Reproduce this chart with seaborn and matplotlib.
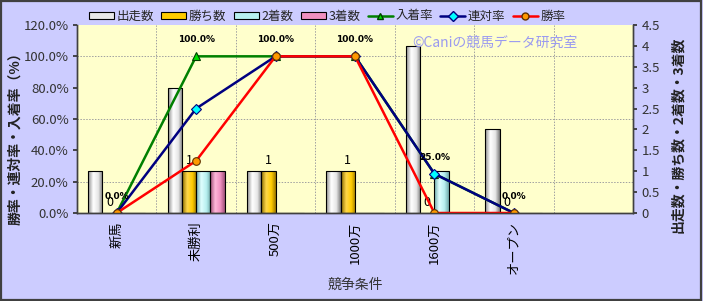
import numpy as np
import pandas as pd
import matplotlib
matplotlib.use("Agg")
import matplotlib.pyplot as plt
import seaborn as sns
from matplotlib.colors import LinearSegmentedColormap
from matplotlib.lines import Line2D
from matplotlib.patches import Patch, Rectangle
from matplotlib.ticker import FuncFormatter, MultipleLocator, FixedLocator

# ---------------- data ----------------
categories = ["新馬", "未勝利", "500万", "1000万", "1600万", "オープン"]
bar_names = ["出走数", "勝ち数", "2着数", "3着数"]
starts = [1, 3, 1, 1, 4, 2]
wins = [0, 1, 1, 1, 0, 0]
seconds = [0, 1, 0, 0, 1, 0]
thirds = [0, 1, 0, 0, 0, 0]
line_names = ["入着率", "連対率", "勝率"]
place_rate = [0.0, 100.0, 100.0, 100.0, 25.0, 0.0]
quinella_rate = [0.0, 66.7, 100.0, 100.0, 25.0, 0.0]
win_rate = [0.0, 33.3, 100.0, 100.0, 0.0, 0.0]
place_labels = ["0.0%", "100.0%", "100.0%", "100.0%", "25.0%", "0.0%"]

# ---------------- style ----------------
sns.set_theme(style="white")
plt.rcParams["font.family"] = ["Noto Sans CJK JP", "DejaVu Sans"]

BG = "#CCCCFF"
PLOT_BG = "#FFFFCC"
bar_colors = ["#E8E8E8", "#FFCC00", "#B8F0F0", "#F090C0"]
bar_grads = [
    ["#8C8C8C", "#FFFFFF", "#E6E6E6", "#7A7A7A"],
    ["#8A6A00", "#FFD84A", "#FFCC00", "#9A7600"],
    ["#6AA8A8", "#E0FFFF", "#B8F0F0", "#70AAAA"],
    ["#9A4A70", "#FFB8DA", "#F090C0", "#A05078"],
]
line_colors = ["#008000", "#000080", "#FF0000"]
marker_faces = ["#00DD00", "#00FFFF", "#FF9900"]
marker_edges = ["#004000", "#000080", "#603000"]
markers = ["^", "D", "o"]

bar_df = pd.DataFrame({
    "条件": categories * 4,
    "種類": sum([[n] * len(categories) for n in bar_names], []),
    "数": starts + wins + seconds + thirds,
})
line_df = pd.DataFrame({
    "条件": categories * 3,
    "系列": sum([[n] * len(categories) for n in line_names], []),
    "率": place_rate + quinella_rate + win_rate,
})

W, H = 703, 301
fig = plt.figure(figsize=(W / 100, H / 100), dpi=100)
fig.patch.set_facecolor(BG)

L, R, T, B = 77, 633, 25, 213
ax = fig.add_axes([L / W, 1 - B / H, (R - L) / W, (B - T) / H])
ax.set_facecolor(PLOT_BG)

sns.barplot(data=bar_df, x="条件", y="数", hue="種類", order=categories,
            hue_order=bar_names, palette=bar_colors, width=0.72, saturation=1,
            edgecolor="black", linewidth=0.8, errorbar=None, legend=False, ax=ax)

# cylinder-like gradient fill for each bar
for ci, cont in enumerate(ax.containers):
    cmap = LinearSegmentedColormap.from_list(f"g{ci}", list(zip([0, 0.35, 0.7, 1.0], bar_grads[ci])))
    grad = np.linspace(0, 1, 64).reshape(1, -1)
    for p in cont.patches:
        h = p.get_height()
        if h <= 0:
            continue
        x0, w = p.get_x(), p.get_width()
        im = ax.imshow(grad, cmap=cmap, extent=[x0, x0 + w, 0, h], aspect="auto",
                       zorder=p.get_zorder() - 0.01, interpolation="bilinear")
        im.set_clip_path(p)
        p.set_facecolor("none")

ax.bar_label(ax.containers[1], labels=[str(v) for v in wins], padding=3,
             fontsize=9, color="black")

ax2 = ax.twinx()
ax2.patch.set_visible(False)
sns.pointplot(data=line_df, x="条件", y="率", hue="系列", order=categories,
              hue_order=line_names, palette=line_colors, markers=markers,
              linestyles="-", errorbar=None, legend=False, ax=ax2,
              markersize=5.5, linewidth=1.8)
for ln, fc, ec in zip(ax2.lines, marker_faces, marker_edges):
    ln.set_markerfacecolor(fc)
    ln.set_markeredgecolor(ec)
    ln.set_markeredgewidth(0.8)

for i, (v, lab) in enumerate(zip(place_rate, place_labels)):
    ax2.annotate(lab, (i, v), xytext=(0, 12), textcoords="offset points",
                 ha="center", va="center", fontsize=6.5, fontweight="bold",
                 family="DejaVu Sans", color="black")

# ---- bar axis (right scale) ----
ax.set_xlim(-0.5, 6.5)
ax.set_ylim(0, 4.5)
ax.yaxis.set_major_locator(MultipleLocator(0.5))
ax.yaxis.set_major_formatter(FuncFormatter(lambda v, p: f"{v:g}"))
ax.yaxis.set_minor_locator(FixedLocator([0.75, 1.5, 2.25, 3.0, 3.75]))
ax.xaxis.set_minor_locator(FixedLocator([0.5, 1.5, 2.5, 3.5, 4.5, 5.5]))
ax.yaxis.tick_right()
ax.set_axisbelow(True)
ax.grid(False)
ax.grid(which="minor", color="#A0A0A0", linestyle=(0, (1.5, 1.5)), linewidth=0.7)
ax.set_xlabel("")
ax.set_ylabel("")
ax.set_xticks(range(len(categories)))
ax.set_xticklabels(categories, rotation=90, fontsize=9.5, va="top", ha="center",
                   color="black")
ax.tick_params(axis="x", which="both", length=0, pad=6)
ax.tick_params(axis="y", which="major", right=True, labelright=True, left=False,
               labelleft=False, length=3, direction="out", labelsize=9.5,
               labelcolor="#333333", pad=3, color="#333333")
ax.tick_params(axis="y", which="minor", length=0, left=False, right=False)

# ---- line axis (left scale) ----
ax2.set_xlim(-0.5, 6.5)
ax2.set_ylim(0, 120)
ax2.yaxis.set_major_locator(MultipleLocator(20))
ax2.yaxis.set_major_formatter(FuncFormatter(lambda v, p: f"{v:.1f}%"))
ax2.yaxis.tick_left()
ax2.set_xlabel("")
ax2.set_ylabel("")
ax2.grid(False)
ax2.tick_params(axis="y", left=True, labelleft=True, right=False, labelright=False,
                length=3, direction="out", labelsize=9.5, labelcolor="#333333",
                pad=3, color="#333333")
ax2.tick_params(axis="x", length=0, labelbottom=False)

for a in (ax, ax2):
    a.spines["top"].set_visible(False)
    for s in ("left", "right", "bottom"):
        a.spines[s].set_color("#404040")
        a.spines[s].set_linewidth(1.0)

# axis titles
fig.text(15 / W, 1 - 135 / H, "勝率・連対率・入着率（%）", rotation=90, ha="center",
         va="center", fontsize=10, fontweight="bold", color="#222222")
fig.text(678 / W, 1 - 135 / H, "出走数・勝ち数・2着数・3着数", rotation=90, ha="center",
         va="center", fontsize=10, fontweight="bold", color="#222222")
fig.text(355 / W, 1 - 285 / H, "競争条件", ha="center", va="center", fontsize=10,
         color="#333333")

# watermark
fig.text(495 / W, 1 - 43 / H, "©Caniの競馬データ研究室", ha="center", va="center",
         fontsize=10, color="#9A9AF0")

# legend
handles = [Patch(facecolor=c, edgecolor="black", linewidth=0.8) for c in bar_colors]
handles += [Line2D([0], [0], color=lc, marker=m, markersize=5, markerfacecolor=fc,
                   markeredgecolor=ec, linewidth=1.8)
            for lc, m, fc, ec in zip(line_colors, markers, marker_faces, marker_edges)]
fig.legend(handles, bar_names + line_names, loc="center", ncol=7,
           bbox_to_anchor=(327 / W, 1 - 16 / H), frameon=False, fontsize=9,
           handlelength=2.0, handleheight=0.5, handletextpad=0.2, columnspacing=0.6,
           borderpad=0)

# figure frame
fig.add_artist(Rectangle((0.001, 0.003), 0.996, 0.994, transform=fig.transFigure,
                         fill=False, edgecolor="#404040", linewidth=1.6))

fig.savefig("out.png", dpi=100, facecolor=BG)
